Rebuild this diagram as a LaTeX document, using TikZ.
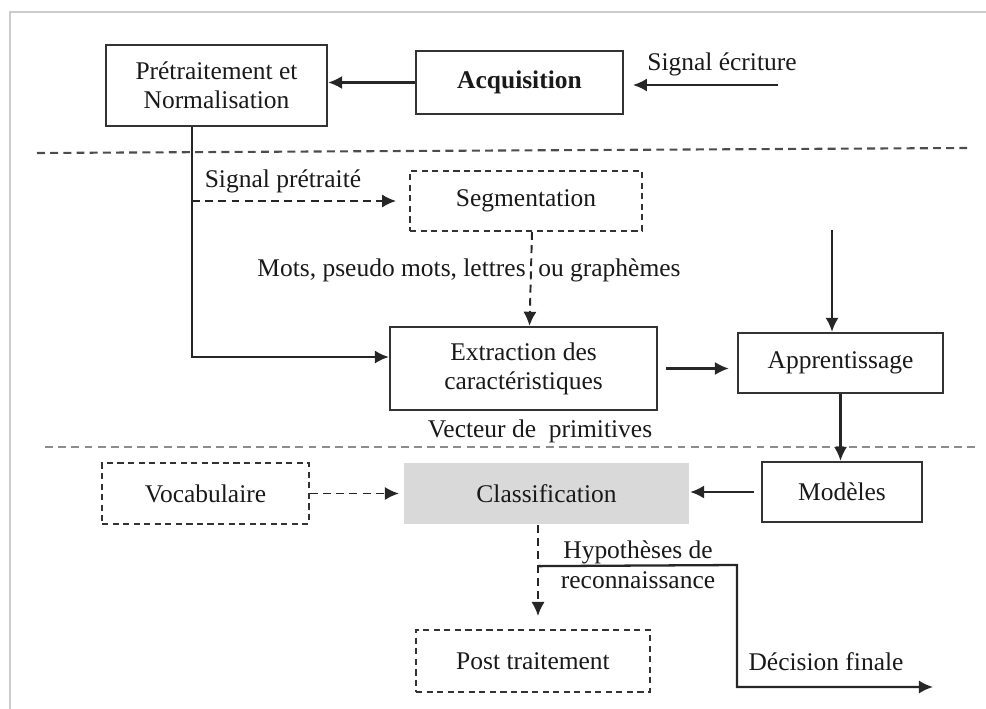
\documentclass[tikz,border=0pt]{standalone}
\usepackage{fontspec}
\setmainfont{Liberation Serif}
\usetikzlibrary{arrows.meta}
\tikzset{
  box/.style={draw=black!80, line width=1.3pt, align=center, text=black!90, inner sep=0pt},
  dbox/.style={box, line width=1.1pt, dash pattern=on 3.5pt off 2.5pt},
  arr/.style={draw=black!85, line width=1.3pt, -{Latex[length=8pt,width=7.5pt]}},
  darr/.style={arr, line width=1.1pt, dash pattern=on 4.5pt off 3pt},
  lbl/.style={text=black!90, align=center, inner sep=0pt},
  sep/.style={line width=1.2pt, dash pattern=on 4.5pt off 3pt}
}
\begin{document}
\begin{tikzpicture}[x=0.02cm, y=-0.02cm, font=\fontsize{14.5}{16.5}\selectfont]
			%%%%% START %%%%%
			
			\useasboundingbox (0, 0) rectangle (986, 709);
			\draw[line width=1.5pt, color=black!20] (10, 709) -- (10, 12) -- (986, 12);
			
			\draw[sep, color=black!70] (37, 153) -- (967, 148);
			\draw[sep, color=black!45] (45, 447) -- (980, 447);
			
			\node[box, minimum width=4.42cm, minimum height=1.62cm] (pre) at (216.5, 85.5) {Prétraitement et\\Normalisation};
			\node[box, minimum width=4.14cm, minimum height=1.26cm, font=\fontsize{14.5}{16.5}\selectfont\bfseries] (acq) at (519.5, 82.5) {Acquisition};
			\node[dbox, minimum width=4.64cm, minimum height=1.2cm] (seg) at (526, 201) {Segmentation};
			\node[box, minimum width=5.34cm, minimum height=1.66cm] (ext) at (523.5, 368.5) {Extraction des\\caractéristiques};
			\node[box, minimum width=4.1cm, minimum height=1.2cm] (app) at (840.5, 363) {Apprentissage};
			\node[dbox, minimum width=4.14cm, minimum height=1.22cm] (voc) at (205.5, 493.5) {Vocabulaire};
			\node[box, draw=none, fill=black!15, minimum width=5.7cm, minimum height=1.22cm] (cls) at (546.5, 493.5) {Classification};
			\node[box, minimum width=3.2cm, minimum height=1.2cm] (mod) at (842, 492) {Modèles};
			\node[dbox, minimum width=4.68cm, minimum height=1.24cm] (post) at (533, 661) {Post traitement};
			
			\node[lbl] (lsig) at (722, 64) {Signal écriture};
			\node[lbl] (lpre) at (283, 181) {Signal prétraité};
			\node[lbl, anchor=east] (lmots) at (526, 270) {Mots, pseudo mots, lettres};
			\node[lbl, anchor=west] (lgra) at (538, 270) {ou graphèmes};
			\node[lbl] (lvec) at (540, 431) {Vecteur de\ \ primitives};
			\node[lbl, font=\fontsize{14.5}{17}\selectfont] (lhyp) at (638, 565) {Hypothèses de\\reconnaissance};
			\node[lbl] (ldec) at (826, 662) {Décision finale};
			
			\coordinate (sigin) at (778, 85);
			\coordinate (tap) at ([xshift=-0.49cm]pre.south);
			\coordinate (learn) at (832, 230);
			\coordinate (tap2) at ([xshift=-0.17cm]cls.south);
			\coordinate (hyp) at ([yshift=-0.82cm]tap2);
			\coordinate (turn) at (737, 565);
			\coordinate (fin) at (933, 687);
			
			\draw[arr, shorten >=5pt] (sigin) -- (sigin -| acq.east);
			\draw[arr] (acq.west) -- (acq.west -| pre.east);
			\draw[arr] (tap) |- ([yshift=0.23cm]ext.west);
			\draw[darr, shorten >=0.26cm] (tap |- seg.west) -- (seg.west);
			\draw[darr] ([xshift=0.12cm]seg.south) -- ([xshift=0.12cm]ext.north);
			\draw[arr, shorten <=0.16cm, shorten >=0.16cm] (ext.east) -- (ext.east -| app.west);
			\draw[arr] (learn) -- (learn |- app.north);
			\draw[arr] (app.south) -- (app.south |- mod.north);
			\draw[arr, shorten <=0.14cm] (mod.west) -- (mod.west -| cls.east);
			\draw[darr, shorten >=0.08cm] (voc.east) -- (voc.east -| cls.west);
			\draw[darr, shorten >=0.26cm] (tap2) -- (tap2 |- post.north);
			\draw[arr] (hyp) -- (turn) |- (fin);
			
			%%%%% END %%%%%
\end{tikzpicture}
\end{document}
